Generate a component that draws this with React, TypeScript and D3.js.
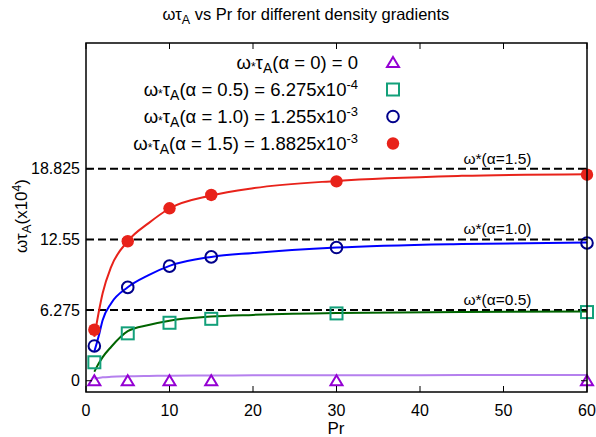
import React from "react";
import * as d3 from "d3";

const W = 596;
const H = 437;

const xTicks = [0, 10, 20, 30, 40, 50, 60];
const yTicks = [0, 6.275, 12.55, 18.825];
const yTickLabels = ["0", "6.275", "12.55", "18.825"];

const prPoints = [1, 5, 10, 15, 30, 60];
const alpha0Points = [0, 0, 0, 0, 0, 0];
const alpha05Points = [1.64, 4.21, 5.15, 5.5, 5.98, 6.1];
const alpha10Points = [3.09, 8.29, 10.18, 11.0, 11.83, 12.24];
const alpha15Points = [4.53, 12.39, 15.32, 16.5, 17.71, 18.3];

// fitted curves
const curvePr = [1, 1.5, 2, 3, 5, 7.5, 10, 15, 20, 30, 45, 60];
const alpha0Curve = [0.2, 0.25, 0.3, 0.35, 0.4, 0.43, 0.45, 0.47, 0.48, 0.49, 0.5, 0.51];
const alpha05Curve = [0.8, 1.5, 2.1, 3.0, 4.4, 4.95, 5.33, 5.7, 5.85, 6.02, 6.1, 6.15];
const alpha10Curve = [2.6, 3.9, 5.4, 6.87, 8.3, 9.38, 10.2, 11.0, 11.35, 11.83, 12.15, 12.27];
const alpha15Curve = [3.9, 6.0, 7.8, 10.1, 12.4, 14.0, 15.3, 16.45, 17.1, 17.75, 18.2, 18.35];

const refLevels = [6.275, 12.55, 18.825];
const refLabels = ["ω*(α=0.5)", "ω*(α=1.0)", "ω*(α=1.5)"];

const legendPrefix = "(α = ";
const legendAlphas = ["0", "0.5", "1.0", "1.5"];
const legendValues = ["0", "6.275x10", "1.255x10", "1.8825x10"];
const legendExps = ["", "-4", "-3", "-3"];

const FONT = "'Liberation Sans', Arial, Helvetica, sans-serif";

const C_PURPLE = "#9400d3";
const C_PURPLE_LINE = "#b580ee";
const C_GREEN = "#13a07a";
const C_GREEN_LINE = "#006400";
const C_BLUE = "#00008b";
const C_BLUE_LINE = "#0000ff";
const C_RED = "#e8221a";
const C_RED_LINE = "#e8221a";

export default function App() {
  const left = 86, right = 587, top = 43, bottom = 392;
  const x = d3.scaleLinear().domain([0, 60]).range([left, right]);
  const y = d3.scaleLinear().domain([-1, 30]).range([bottom, top]);

  const line = d3
    .line<[number, number]>()
    .x((d) => x(d[0]))
    .y((d) => y(d[1]))
    .curve(d3.curveMonotoneX);

  const mk = (vals: number[]) => curvePr.map((p, i) => [p, vals[i]] as [number, number]);

  const tri = (cx: number, cy: number, key: string) => (
    <path
      key={key}
      d={`M${cx},${cy - 5.5} L${cx + 6},${cy + 4.5} L${cx - 6},${cy + 4.5} Z`}
      fill="none"
      stroke={C_PURPLE}
      strokeWidth={2}
    />
  );
  const sq = (cx: number, cy: number, key: string) => (
    <rect key={key} x={cx - 6} y={cy - 6} width={12} height={12} fill="none" stroke={C_GREEN} strokeWidth={2} />
  );
  const circ = (cx: number, cy: number, key: string) => (
    <circle key={key} cx={cx} cy={cy} r={5.8} fill="none" stroke={C_BLUE} strokeWidth={2} />
  );
  const dot = (cx: number, cy: number, key: string) => (
    <circle key={key} cx={cx} cy={cy} r={6.2} fill={C_RED} />
  );

  const markers = [tri, sq, circ, dot];
  const seriesPts = [alpha0Points, alpha05Points, alpha10Points, alpha15Points];
  const curves = [alpha0Curve, alpha05Curve, alpha10Curve, alpha15Curve];
  const curveColors = [C_PURPLE_LINE, C_GREEN_LINE, C_BLUE_LINE, C_RED_LINE];

  const legendY = [62.5, 89.5, 116.5, 143.5];

  return (
    <svg width={W} height={H} style={{ position: "absolute", left: 0, top: 0 }} fontFamily={FONT}>
      <rect x={0} y={0} width={W} height={H} fill="#fff" />
      {/* title */}
      <text x={306} y={20} textAnchor="middle" fontSize={16.5} fill="#000">
        ωτ<tspan fontSize={12.5} dy={4}>A</tspan>
        <tspan dy={-4}> vs Pr for different density gradients</tspan>
      </text>

      {/* reference dashed lines */}
      {refLevels.map((v, i) => (
        <g key={"ref" + i}>
          <line x1={left} x2={right} y1={y(v)} y2={y(v)} stroke="#000" strokeWidth={2} strokeDasharray="8,4" />
          <text x={497.5} y={y(v) - 5} textAnchor="middle" fontSize={15.5}>
            {refLabels[i]}
          </text>
        </g>
      ))}

      {/* curves */}
      {curves.map((c, i) => (
        <path key={"c" + i} d={line(mk(c)) || ""} fill="none" stroke={curveColors[i]} strokeWidth={2} />
      ))}

      {/* markers */}
      {seriesPts.map((vals, si) =>
        prPoints.map((p, i) => markers[si](x(p), y(vals[i]), `m${si}-${i}`))
      )}

      {/* frame */}
      <rect x={left} y={top} width={right - left} height={bottom - top} fill="none" stroke="#000" strokeWidth={1.5} />

      {/* x ticks */}
      {xTicks.map((t) => (
        <g key={"xt" + t}>
          <line x1={x(t)} x2={x(t)} y1={bottom} y2={bottom - 6} stroke="#000" strokeWidth={1} />
          <line x1={x(t)} x2={x(t)} y1={top} y2={top + 6} stroke="#000" strokeWidth={1} />
          <text x={x(t)} y={bottom + 24} textAnchor="middle" fontSize={16}>
            {t}
          </text>
        </g>
      ))}
      {/* y ticks */}
      {yTicks.map((t, i) => (
        <g key={"yt" + i}>
          <line x1={left} x2={left + 6} y1={y(t)} y2={y(t)} stroke="#000" strokeWidth={1} />
          <line x1={right} x2={right - 6} y1={y(t)} y2={y(t)} stroke="#000" strokeWidth={1} />
          <text x={left - 6} y={y(t) + 5.5} textAnchor="end" fontSize={16}>
            {yTickLabels[i]}
          </text>
        </g>
      ))}

      {/* axis labels */}
      <text x={336} y={434} textAnchor="middle" fontSize={17}>
        Pr
      </text>
      <text transform={`translate(27,216) rotate(-90)`} textAnchor="middle" fontSize={17}>
        ωτ<tspan fontSize={13} dy={4}>A</tspan>
        <tspan dy={-4}>(x10</tspan>
        <tspan fontSize={12} dy={-6}>4</tspan>
        <tspan dy={6}>)</tspan>
      </text>

      {/* legend */}
      {legendAlphas.map((a, i) => (
        <g key={"lg" + i}>
          <text x={358} y={legendY[i] + 6.5} textAnchor="end" fontSize={18.5}>
            ω<tspan fontSize={12} dy={2}>*</tspan>
            <tspan dy={-2}>τ</tspan>
            <tspan fontSize={14} dy={4}>A</tspan>
            <tspan dy={-4}>{legendPrefix + a + ") = " + legendValues[i]}</tspan>
            {legendExps[i] ? (
              <tspan fontSize={13} dy={-7}>
                {legendExps[i]}
              </tspan>
            ) : null}
          </text>
          {markers[i](393, legendY[i], "lm" + i)}
        </g>
      ))}
    </svg>
  );
}
